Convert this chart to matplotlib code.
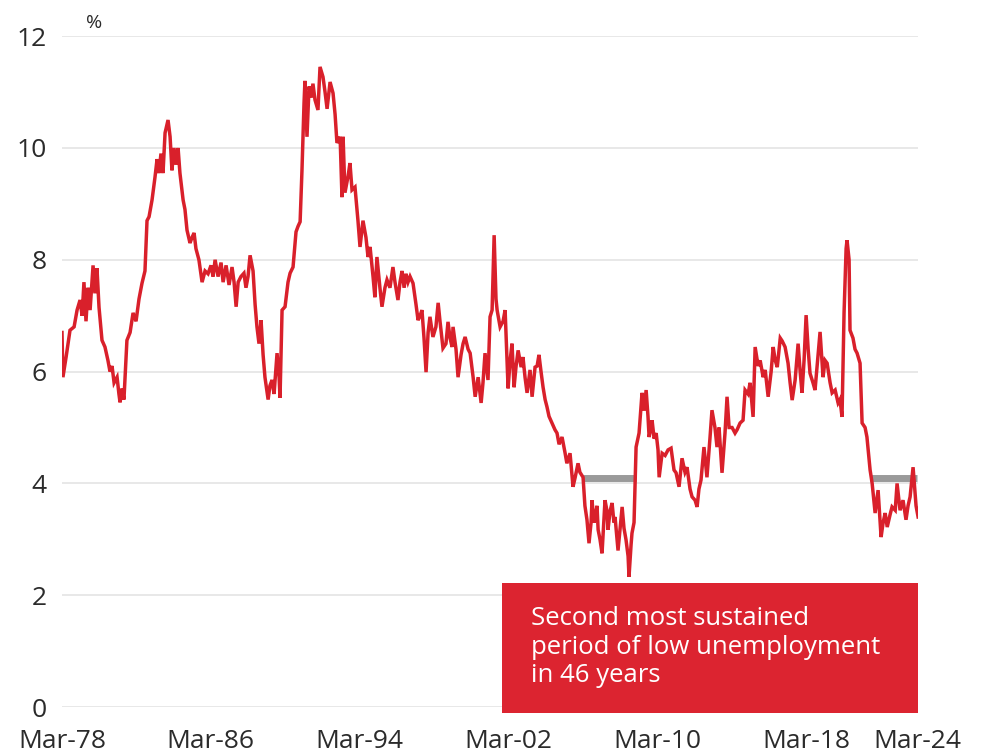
import matplotlib
matplotlib.use("Agg")
import matplotlib.pyplot as plt
from matplotlib.patches import Rectangle

# Monthly-ish readings of the unemployment rate (decimal year, %)
years = [
    1978.17, 1978.22, 1978.39, 1978.60, 1978.82, 1978.98, 1979.14, 1979.25, 1979.35, 1979.46,
    1979.57, 1979.68, 1979.84, 1979.94, 1980.05, 1980.16, 1980.32, 1980.48, 1980.64, 1980.75,
    1980.86, 1980.97, 1981.13, 1981.23, 1981.29, 1981.40, 1981.50, 1981.66, 1981.83, 1981.99,
    1982.15, 1982.31, 1982.47, 1982.63, 1982.74, 1982.85, 1983.01, 1983.17, 1983.28, 1983.38,
    1983.49, 1983.60, 1983.71, 1983.87, 1983.98, 1984.08, 1984.19, 1984.30, 1984.41, 1984.51,
    1984.68, 1984.78, 1984.89, 1985.05, 1985.16, 1985.27, 1985.37, 1985.53, 1985.70, 1985.86,
    1986.02, 1986.18, 1986.29, 1986.40, 1986.56, 1986.72, 1986.83, 1986.99, 1987.15, 1987.31,
    1987.42, 1987.53, 1987.64, 1987.79, 1987.95, 1988.06, 1988.17, 1988.28, 1988.44, 1988.55,
    1988.65, 1988.76, 1988.87, 1988.98, 1989.08, 1989.25, 1989.35, 1989.46, 1989.57, 1989.73,
    1989.84, 1989.89, 1990.00, 1990.16, 1990.32, 1990.43, 1990.59, 1990.75, 1990.86, 1990.97,
    1991.07, 1991.18, 1991.23, 1991.34, 1991.45, 1991.56, 1991.66, 1991.77, 1991.93, 1992.04,
    1992.20, 1992.31, 1992.42, 1992.58, 1992.74, 1992.85, 1992.95, 1993.12, 1993.22, 1993.28,
    1993.38, 1993.55, 1993.65, 1993.76, 1993.92, 1994.08, 1994.19, 1994.35, 1994.51, 1994.62,
    1994.73, 1994.89, 1994.99, 1995.10, 1995.26, 1995.37, 1995.53, 1995.64, 1995.80, 1995.96,
    1996.07, 1996.23, 1996.34, 1996.45, 1996.56, 1996.66, 1996.77, 1996.88, 1997.04, 1997.20,
    1997.31, 1997.42, 1997.52, 1997.63, 1997.74, 1997.85, 1997.95, 1998.11, 1998.27, 1998.39,
    1998.49, 1998.65, 1998.81, 1998.92, 1999.03, 1999.14, 1999.19, 1999.35, 1999.46, 1999.62,
    1999.73, 1999.84, 2000.00, 2000.11, 2000.27, 2000.38, 2000.54, 2000.70, 2000.80, 2000.91,
    2001.07, 2001.18, 2001.29, 2001.40, 2001.50, 2001.56, 2001.72, 2001.88, 2001.99, 2002.15,
    2002.26, 2002.36, 2002.47, 2002.58, 2002.69, 2002.85, 2002.95, 2003.06, 2003.17, 2003.33,
    2003.44, 2003.60, 2003.71, 2003.81, 2003.92, 2004.03, 2004.14, 2004.24, 2004.35, 2004.51,
    2004.67, 2004.78, 2004.89, 2005.05, 2005.21, 2005.31, 2005.48, 2005.64, 2005.75, 2005.91,
    2006.01, 2006.18, 2006.28, 2006.39, 2006.50, 2006.61, 2006.66, 2006.77, 2006.83, 2006.93,
    2006.99, 2007.09, 2007.20, 2007.36, 2007.47, 2007.52, 2007.63, 2007.74, 2007.84, 2007.90,
    2008.06, 2008.17, 2008.28, 2008.38, 2008.49, 2008.60, 2008.65, 2008.76, 2008.81, 2008.92,
    2009.03, 2009.19, 2009.35, 2009.46, 2009.57, 2009.67, 2009.73, 2009.84, 2009.89, 2010.00,
    2010.11, 2010.21, 2010.27, 2010.43, 2010.59, 2010.75, 2010.91, 2011.07, 2011.18, 2011.34,
    2011.50, 2011.66, 2011.77, 2011.93, 2012.04, 2012.20, 2012.31, 2012.41, 2012.52, 2012.68,
    2012.84, 2013.00, 2013.11, 2013.27, 2013.38, 2013.49, 2013.65, 2013.81, 2013.92, 2014.03,
    2014.19, 2014.35, 2014.46, 2014.62, 2014.78, 2014.89, 2015.05, 2015.16, 2015.32, 2015.43,
    2015.59, 2015.70, 2015.86, 2015.97, 2016.13, 2016.29, 2016.40, 2016.51, 2016.62, 2016.78,
    2016.88, 2017.04, 2017.20, 2017.31, 2017.42, 2017.58, 2017.74, 2017.85, 2017.95, 2018.06,
    2018.17, 2018.28, 2018.38, 2018.54, 2018.65, 2018.81, 2018.92, 2019.08, 2019.19, 2019.30,
    2019.46, 2019.57, 2019.73, 2019.89, 2019.99, 2020.10, 2020.21, 2020.32, 2020.37, 2020.48,
    2020.53, 2020.69, 2020.80, 2020.91, 2021.07, 2021.18, 2021.34, 2021.44, 2021.61, 2021.72,
    2021.88, 2022.04, 2022.20, 2022.31, 2022.42, 2022.53, 2022.69, 2022.79, 2022.96, 2023.06,
    2023.22, 2023.38, 2023.54, 2023.65, 2023.76, 2023.92, 2024.08, 2024.19,
]
rate = [
    6.70, 5.90, 6.26, 6.74, 6.80, 7.10, 7.28, 7.00, 7.60, 6.90,
    7.50, 7.10, 7.90, 7.40, 7.85, 7.15, 6.56, 6.44, 6.20, 6.00,
    6.10, 5.80, 5.90, 5.60, 5.45, 5.70, 5.50, 6.56, 6.70, 7.05,
    6.90, 7.30, 7.58, 7.80, 8.70, 8.77, 9.07, 9.48, 9.80, 9.55,
    9.90, 9.55, 10.27, 10.50, 10.20, 9.60, 10.00, 9.70, 10.00, 9.55,
    9.07, 8.90, 8.53, 8.30, 8.40, 8.48, 8.20, 8.00, 7.60, 7.80,
    7.75, 7.90, 7.70, 8.00, 7.70, 7.95, 7.60, 7.90, 7.55, 7.87,
    7.60, 7.16, 7.60, 7.70, 7.76, 7.50, 7.70, 8.08, 7.80, 7.20,
    6.80, 6.50, 6.92, 6.30, 5.90, 5.50, 5.75, 5.85, 5.60, 6.33,
    5.90, 5.53, 7.10, 7.16, 7.60, 7.76, 7.87, 8.50, 8.60, 8.68,
    9.60, 10.80, 11.20, 10.20, 11.10, 10.90, 11.15, 10.86, 10.68, 11.45,
    11.27, 11.00, 10.70, 11.18, 10.98, 10.60, 10.09, 10.20, 9.12, 10.20,
    9.20, 9.50, 9.73, 9.25, 9.30, 8.70, 8.23, 8.70, 8.40, 8.05,
    8.23, 7.70, 7.33, 8.05, 7.50, 7.16, 7.50, 7.64, 7.50, 7.87,
    7.60, 7.28, 7.60, 7.80, 7.50, 7.75, 7.60, 7.70, 7.58, 7.20,
    6.92, 7.00, 7.10, 6.60, 5.99, 6.70, 6.98, 6.62, 6.80, 7.23,
    6.90, 6.42, 6.50, 6.89, 6.60, 6.44, 6.80, 6.40, 5.90, 6.30,
    6.50, 6.62, 6.40, 6.33, 5.90, 5.55, 5.90, 5.44, 5.80, 6.33,
    5.85, 6.98, 7.10, 8.44, 7.30, 7.10, 6.80, 6.90, 7.10, 5.70,
    6.20, 6.50, 5.72, 6.10, 6.38, 6.08, 6.26, 5.90, 5.62, 6.03,
    5.55, 6.08, 6.10, 6.30, 6.00, 5.72, 5.50, 5.37, 5.20, 5.08,
    4.96, 4.90, 4.70, 4.83, 4.55, 4.36, 4.54, 3.94, 4.10, 4.36,
    4.20, 4.11, 3.60, 3.35, 2.93, 3.30, 3.70, 3.30, 3.40, 3.60,
    3.17, 3.00, 2.75, 3.70, 3.50, 3.17, 3.50, 3.65, 3.30, 3.40,
    2.80, 3.20, 3.58, 3.20, 2.99, 2.70, 2.33, 2.90, 3.11, 3.30,
    4.65, 4.90, 5.62, 5.30, 5.67, 5.20, 4.83, 5.00, 5.13, 4.80,
    4.90, 4.60, 4.11, 4.54, 4.50, 4.60, 4.63, 4.24, 4.19, 3.94,
    4.45, 4.20, 4.29, 3.90, 3.76, 3.70, 3.58, 3.90, 4.06, 4.65,
    4.11, 4.80, 5.31, 5.00, 4.65, 5.00, 4.19, 4.90, 5.55, 5.00,
    5.00, 4.90, 4.96, 5.08, 5.13, 5.67, 5.60, 5.80, 5.19, 6.44,
    6.10, 6.20, 5.90, 6.03, 5.55, 6.00, 6.44, 6.20, 6.08, 6.60,
    6.55, 6.44, 6.15, 5.80, 5.49, 5.85, 6.50, 6.00, 5.62, 6.20,
    7.01, 6.40, 5.97, 5.80, 5.67, 6.30, 6.71, 5.90, 6.20, 6.15,
    5.80, 5.62, 5.67, 5.44, 5.50, 5.19, 7.05, 8.20, 8.35, 8.00,
    6.74, 6.60, 6.40, 6.33, 6.15, 5.08, 5.00, 4.83, 4.24, 4.00,
    3.47, 3.88, 3.04, 3.30, 3.47, 3.22, 3.45, 3.58, 3.52, 4.00,
    3.52, 3.70, 3.35, 3.60, 3.76, 4.29, 3.60, 3.40,
]

# Low-unemployment stretches marked with a grey bar
low_start = [2006.18, 2021.61]
low_end = [2009.00, 2024.15]
low_level = [4.1, 4.1]

tick_years = [1978.17, 1986.17, 1994.17, 2002.17, 2010.17, 2018.17, 2024.17]
tick_labels = ["Mar-78", "Mar-86", "Mar-94", "Mar-02", "Mar-10", "Mar-18", "Mar-24"]
y_ticks = [0, 2, 4, 6, 8, 10, 12]

note = "Second most sustained\nperiod of low unemployment\nin 46 years"

plt.rcParams["font.family"] = ["Open Sans", "DejaVu Sans"]
RED = "#d9202b"
TEXT = "#2b2b2b"

fig = plt.figure(figsize=(9.92, 7.53), dpi=100)
ax = fig.add_axes([0.0625, 0.061, 0.863, 0.891])

ax.plot(years, rate, color=RED, linewidth=2.5, solid_joinstyle="miter", zorder=3)
for s, e, lv in zip(low_start, low_end, low_level):
    ax.plot([s, e], [lv, lv], color="#9a9a9a", linewidth=5, solid_capstyle="butt", zorder=2)

ax.set_xlim(1978.17, 2024.19)
ax.set_ylim(0, 12)
ax.set_yticks(y_ticks)
ax.set_yticklabels([str(v) for v in y_ticks], fontsize=19, color=TEXT)
ax.set_xticks(tick_years)
ax.set_xticklabels(tick_labels, fontsize=19, color=TEXT)
ax.tick_params(axis="both", length=0)
ax.tick_params(axis="y", pad=11)
ax.tick_params(axis="x", pad=16)
ax.grid(axis="y", color="#e4e4e4", linewidth=1.2, zorder=0)
for side in ax.spines.values():
    side.set_visible(False)

ax.text(0.038, 1.006, "%", transform=ax.transAxes, fontsize=14, color=TEXT,
        ha="center", va="bottom")

# Call-out box in the lower right
box = Rectangle((0.5135, -0.009), 0.4865, 0.194, transform=ax.transAxes,
                facecolor="#dc2430", edgecolor="none", clip_on=False, zorder=4)
ax.add_patch(box)
ax.text(0.548, 0.151, note, transform=ax.transAxes, fontsize=18.5, color="white",
        ha="left", va="top", linespacing=1.2, zorder=5)

fig.savefig("out.png", dpi=100)
